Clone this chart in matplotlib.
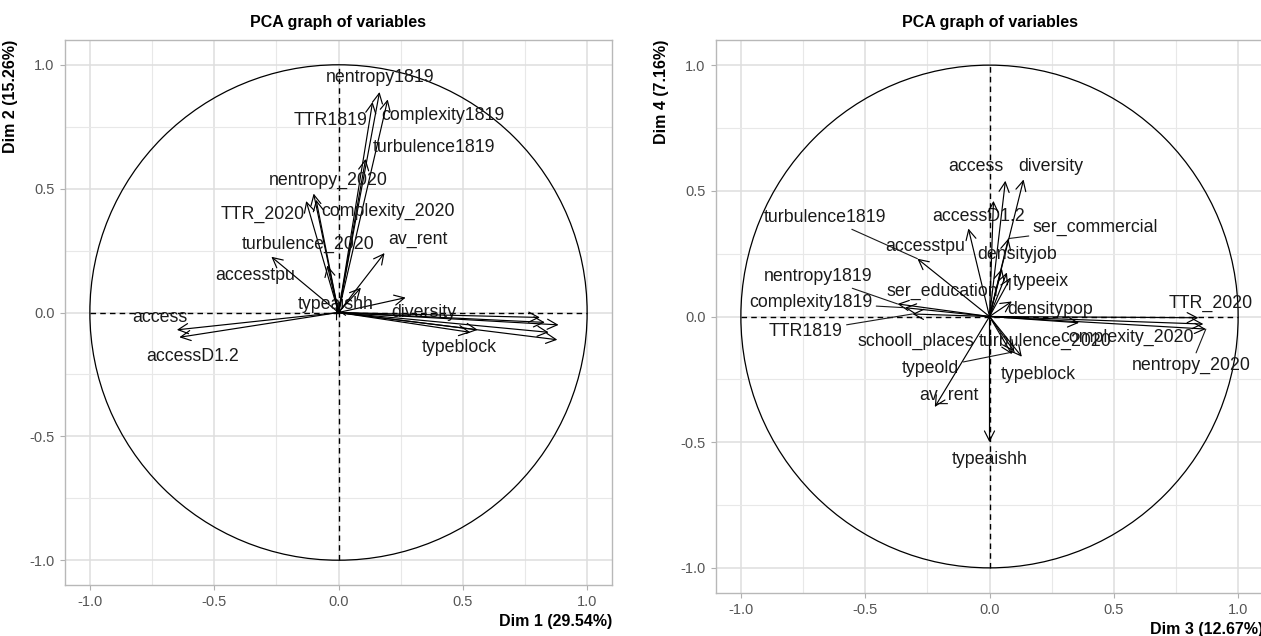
import numpy as np
import matplotlib
matplotlib.use("Agg")
import matplotlib.pyplot as plt
from matplotlib.patches import Circle

plt.rcParams['font.family'] = ['Liberation Sans', 'DejaVu Sans']

# variable loadings
variables = ['access', 'accessD1.2', 'accesstpu', 'diversity', 'ser_commercial',
             'ser_education', 'densityjob', 'densitypop', 'typeeix', 'typeold',
             'typeblock', 'typeaishh', 'schooll_places', 'av_rent',
             'TTR1819', 'nentropy1819', 'complexity1819', 'turbulence1819',
             'TTR_2020', 'nentropy_2020', 'complexity_2020', 'turbulence_2020']
dim1 = [-0.65, -0.64, -0.27, 0.81, 0.88, 0.27, 0.885, 0.83, 0.845, 0.56,
        0.53, -0.01, 0.09, 0.185, 0.137, 0.165, 0.198, 0.109,
        -0.13, -0.10, -0.09, -0.045]
dim2 = [-0.07, -0.10, 0.225, -0.02, -0.11, 0.06, -0.05, -0.04, -0.08, -0.07,
        -0.08, 0.02, 0.10, 0.24, 0.85, 0.89, 0.86, 0.62,
        0.45, 0.48, 0.455, 0.19]
dim3 = [0.064, 0.016, -0.085, 0.137, 0.076, 0.07, 0.05, 0.36, 0.085, 0.10,
        0.09, 0.0, 0.09, -0.22, -0.31, -0.37, -0.34, -0.29,
        0.84, 0.87, 0.86, 0.13]
dim4 = [0.54, 0.46, 0.35, 0.545, 0.31, 0.175, 0.19, -0.025, 0.155, -0.14,
        -0.15, -0.50, 0.06, -0.36, 0.01, 0.05, 0.035, 0.23,
        -0.005, -0.05, -0.03, -0.16]

# label placement (layout only); True = drawn with a leader segment
labels_12 = {
    'nentropy1819': (0.169, 0.948, False), 'TTR1819': (-0.032, 0.774, False),
    'complexity1819': (0.419, 0.794, False), 'turbulence1819': (0.383, 0.665, False),
    'nentropy_2020': (-0.04, 0.532, False), 'TTR_2020': (-0.306, 0.395, False),
    'complexity_2020': (0.198, 0.407, False), 'turbulence_2020': (-0.121, 0.274, False),
    'av_rent': (0.319, 0.294, False), 'accesstpu': (-0.335, 0.149, False),
    'typeaishh': (-0.012, 0.032, False), 'access': (-0.718, -0.02, False),
    'accessD1.2': (-0.585, -0.177, False), 'diversity': (0.343, 0.0, False),
    'typeblock': (0.484, -0.141, False),
}
labels_34 = {
    'access': (-0.056, 0.596, False), 'diversity': (0.245, 0.596, False),
    'accessD1.2': (-0.044, 0.398, False), 'ser_commercial': (0.427, 0.354, True),
    'turbulence1819': (-0.66, 0.394, True), 'accesstpu': (-0.258, 0.278, False),
    'densityjob': (0.113, 0.247, False), 'nentropy1819': (-0.688, 0.159, True),
    'typeeix': (0.205, 0.139, False), 'ser_education': (-0.19, 0.10, False),
    'complexity1819': (-0.72, 0.056, True), 'densitypop': (0.245, 0.028, False),
    'TTR_2020': (0.889, 0.052, False), 'TTR1819': (-0.74, -0.06, True),
    'schooll_places': (-0.298, -0.099, False), 'turbulence_2020': (0.225, -0.1, False),
    'complexity_2020': (0.555, -0.083, False), 'nentropy_2020': (0.81, -0.195, True),
    'typeold': (-0.237, -0.207, True), 'typeblock': (0.197, -0.23, False),
    'av_rent': (-0.165, -0.314, False), 'typeaishh': (0.0, -0.569, False),
}

ticks = [-1.0, -0.5, 0.0, 0.5, 1.0]
tick_labels = ['-1.0', '-0.5', '0.0', '0.5', '1.0']


def draw_panel(ax, xs, ys, labels, xlab, ylab):
    ax.set_xlim(-1.1, 1.1)
    ax.set_ylim(-1.1, 1.1)
    ax.set_xticks(ticks)
    ax.set_yticks(ticks)
    ax.set_xticklabels(tick_labels)
    ax.set_yticklabels(tick_labels)
    ax.set_xticks([-0.75, -0.25, 0.25, 0.75], minor=True)
    ax.set_yticks([-0.75, -0.25, 0.25, 0.75], minor=True)
    ax.grid(which='major', color='#dedede', lw=1.1)
    ax.grid(which='minor', color='#e8e8e8', lw=0.8)
    ax.set_axisbelow(True)
    ax.tick_params(which='major', length=3.5, color='#b0b0b0', labelcolor='#555555',
                   labelsize=10.5, pad=4)
    ax.tick_params(which='minor', length=0)
    for s in ax.spines.values():
        s.set_color('#b8b8b8')
        s.set_linewidth(1.0)

    ax.add_patch(Circle((0, 0), 1, fill=False, color='black', lw=0.9))
    ax.hlines(0, -1, 1, colors='black', linestyles=(0, (4, 3)), lw=1.0)
    ax.vlines(0, -1, 1, colors='black', linestyles=(0, (4, 3)), lw=1.0)

    for name, x, y in zip(variables, xs, ys):
        if name in labels:
            lx, ly, seg = labels[name]
            if seg:
                ax.annotate(name, xy=(x, y), xytext=(lx, ly), ha='center', va='center',
                            fontsize=12.8, color='#1a1a1a',
                            arrowprops=dict(arrowstyle='-', lw=0.8, color='#1a1a1a',
                                            shrinkA=1, shrinkB=0))
            else:
                ax.text(lx, ly, name, ha='center', va='center', fontsize=12.8,
                        color='#1a1a1a')
        ax.annotate('', xy=(x, y), xytext=(0, 0),
                    arrowprops=dict(arrowstyle='->,head_length=0.55,head_width=0.28',
                                    lw=0.85, color='black', shrinkA=0, shrinkB=0,
                                    mutation_scale=13))

    ax.set_title('PCA graph of variables', fontweight='bold', fontsize=11.5, pad=9)
    ax.set_xlabel(xlab, loc='right', fontweight='bold', fontsize=11.5, labelpad=3)
    ax.set_ylabel(ylab, loc='top', fontweight='bold', fontsize=11.5, labelpad=8)


fig = plt.figure(figsize=(12.61, 6.36), dpi=100)
ax1 = fig.add_axes([65 / 1261, (636 - 585) / 636, 547 / 1261, 545 / 636])
ax2 = fig.add_axes([716 / 1261, (636 - 593) / 636, 547 / 1261, 553 / 636])

draw_panel(ax1, dim1, dim2, labels_12, 'Dim 1 (29.54%)', 'Dim 2 (15.26%)')
draw_panel(ax2, dim3, dim4, labels_34, 'Dim 3 (12.67%)', 'Dim 4 (7.16%)')

fig.savefig('out.png', dpi=100)
